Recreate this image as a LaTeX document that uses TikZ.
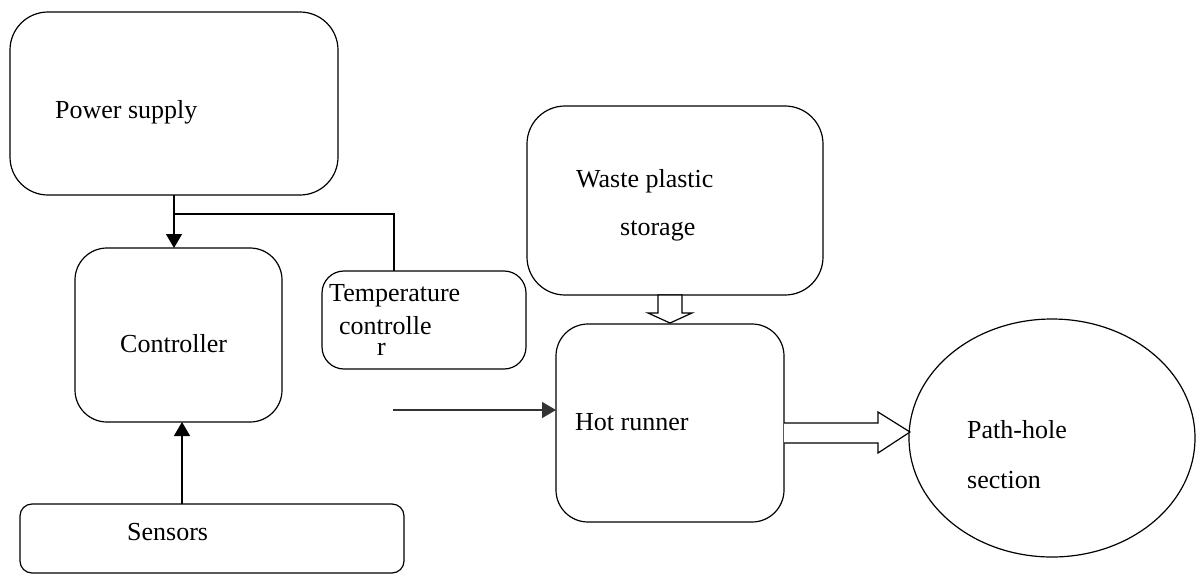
\documentclass[tikz,border=0pt]{standalone}
\usepackage{fontspec}
\setmainfont{Liberation Serif}
\usetikzlibrary{arrows.meta}
\begin{document}
\begin{tikzpicture}[x=1pt,y=-1pt,
  box/.style={draw,line width=1.2pt},
  lbl/.style={anchor=base west,inner sep=0pt,font=\fontsize{26}{30}\selectfont},
  conn/.style={line width=1.4pt},
  tip/.style={-{Triangle[width=16pt,length=14pt]}},
  hollow/.style={draw,line width=1.2pt,fill=white,line join=miter}]
\useasboundingbox (0,0) rectangle (1197,574);
% boxes
\draw[box,rounded corners=38pt] (10,12) rectangle (338,195);
\node[coordinate] (ps) at (174,195) {};
\draw[box,rounded corners=32pt] (75,248) rectangle (282,422);
\node[coordinate] (ctrlT) at (174,248) {};
\node[coordinate] (ctrlB) at (182,422) {};
\draw[box,rounded corners=22pt] (322,271) rectangle (526,369);
\node[coordinate] (tcT) at (394,271) {};
\draw[box,rounded corners=38pt] (527,106) rectangle (823,295);
\draw[box,rounded corners=32pt] (556,324) rectangle (784,522);
\node[coordinate] (hrL) at (556,410) {};
\draw[box] (1052,438) ellipse [x radius=143, y radius=119];
\draw[box,rounded corners=12pt] (20,504) rectangle (404,573);
\node[coordinate] (senT) at (182,504) {};
% texts
\node[lbl] (t1) at (55,118) {Power supply};
\node[lbl] (t2) at (576,187) {Waste plastic};
\node[lbl] (t3) at (620,235) {storage};
\node[lbl] (t4) at (120,352) {Controller};
\node[lbl] (t5) at (329,301) {Temperature};
\node[lbl] (t6) at (339,334) {\rlap{\hspace{38pt}\raisebox{-21pt}{r}}controlle};
\node[lbl] (t8) at (575,430) {Hot runner};
\node[lbl] (t9) at (967,438) {Path-hole};
\node[lbl] (t10) at (967,488) {section};
\node[lbl] (t11) at (127,540) {Sensors};
% connectors
\draw[conn,tip] (ps) -- (ctrlT);
\node[coordinate] (j1) at (174,214) {};
\draw[conn] (j1) -| (tcT);
\draw[conn,tip] (senT) -- (ctrlB);
\node[coordinate] (a0) at (393,410) {};
\draw[conn,gray!40!black,tip] (a0) -- (hrL);
% hollow arrows
\draw[hollow] (658,295) -- (682,295) -- (682,313) -- (692,313) -- (670,323) -- (648,313) -- (658,313) -- cycle;
\draw[hollow] (784,423) -- (878,423) -- (878,412) -- (910,432) -- (878,453) -- (878,443) -- (784,443);
\end{tikzpicture}
\end{document}
